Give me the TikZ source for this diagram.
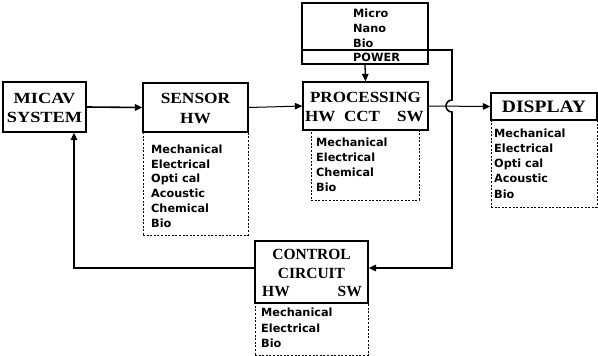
\documentclass[tikz,border=0pt]{standalone}
\usepackage{fontspec}
\usetikzlibrary{arrows.meta}
\newfontfamily\ttlfont{Liberation Serif}[BoldFont={Liberation Serif Bold}]
\newfontfamily\lstfont{DejaVu Sans}[BoldFont={DejaVu Sans Bold}]
\tikzset{
  box/.style={draw, line width=1.2pt, inner sep=0pt},
  ttl/.style={font=\ttlfont\bfseries\fontsize{15.5}{18.5}\selectfont, align=center, inner sep=0pt, transform shape},
  lst/.style={font=\lstfont\bfseries\fontsize{11.3}{14.8}\selectfont, align=left, inner sep=0pt, anchor=north west},
  dbox/.style={draw, line width=0.7pt, dash pattern=on 2pt off 1.6pt, inner sep=0pt},
  conn/.style={line width=1.6pt},
  arr/.style={conn, -{Triangle[length=7.5pt,width=6.5pt]}},
}
\begin{document}
\begin{tikzpicture}[x=1pt,y=-1pt]
\useasboundingbox (0,0) rectangle (598,356);
% MICAV
\node[box, minimum width=83pt, minimum height=50pt] (micav) at (44.5,107) {};
\node[ttl, xscale=1.18] (micavt) at (44.5,108) {MICAV\\SYSTEM};
% SENSOR
\node[box, minimum width=105pt, minimum height=49pt] (sensor) at (195.5,107.5) {};
\node[ttl, xscale=1.12, font=\ttlfont\bfseries\fontsize{15.5}{20}\selectfont] (sensort) at (195.5,108) {SENSOR\\HW};
\node[dbox, minimum width=105pt, minimum height=103pt] (sensorl) at (195.5,183.5) {};
\node[lst] (sensorlt) at (151,144.5) {Mechanical\\Electrical\\Opti cal\\Acoustic\\Chemical\\Bio};
% POWER
\node[box, minimum width=126pt, minimum height=61pt] (power) at (365,33.5) {};
\coordinate (dl) at (302,50);
\coordinate (dr) at (428,50);
\draw[line width=1.2pt] (dl) -- (dr);
\node[lst] (powert) at (353,9) {Micro\\Nano\\Bio};
\node[lst, anchor=west] (powerw) at (353,57.5) {POWER};
% PROCESSING
\node[box, minimum width=125pt, minimum height=48pt] (proc) at (365.5,106) {};
\node[ttl, xscale=1.1] (proct) at (365.5,97) {PROCESSING};
\node[ttl, xscale=1.1, anchor=base west] (prochw) at (305,121) {HW};
\node[ttl, xscale=1.1, anchor=base] (proccct) at (362,121) {CCT};
\node[ttl, xscale=1.1, anchor=base east] (procsw) at (424,121) {SW};
\node[dbox, minimum width=108pt, minimum height=70pt] (procl) at (365,165) {};
\node[lst, font=\lstfont\bfseries\fontsize{11.3}{15}\selectfont] (proclt) at (316,138) {Mechanical\\Electrical\\Chemical\\Bio};
% DISPLAY
\node[box, minimum width=106pt, minimum height=27pt] (disp) at (544,106.5) {};
\node[ttl, xscale=1.12, font=\ttlfont\bfseries\fontsize{17.5}{18}\selectfont] (dispt) at (544,107) {DISPLAY};
\node[dbox, minimum width=106pt, minimum height=87pt] (displ) at (544,163.5) {};
\node[lst, font=\lstfont\bfseries\fontsize{11.3}{15.2}\selectfont] (displt) at (494,128.5) {Mechanical\\Electrical\\Opti cal\\Acoustic\\Bio};
% CONTROL
\node[box, minimum width=113pt, minimum height=62pt] (ctrl) at (311.5,272) {};
\node[ttl] (ctrlt) at (311.5,264) {CONTROL\\CIRCUIT};
\node[ttl, anchor=base west] (ctrlhw) at (262,296) {HW};
\node[ttl, anchor=base east] (ctrlsw) at (362,296) {SW};
\node[dbox, minimum width=113pt, minimum height=52pt] (ctrll) at (311.5,329) {};
\node[lst, font=\lstfont\bfseries\fontsize{11.3}{15.5}\selectfont] (ctrllt) at (261,308) {Mechanical\\Electrical\\Bio};
% connectors
\draw[arr] (micav.east) -- (sensor.west);
\draw[arr, line width=1pt] (sensor.east) -- (proc.west);
\draw[arr, line width=1.3pt] (power.south) -- (proc.north);
\draw[arr, line width=1pt] (proc.east) -- (disp.west);
\coordinate (pa) at (452,50);
\coordinate (pb) at (452,100);
\coordinate (pc) at (452,268);
\draw[arr] (dr) -- (pa) -- (pb) arc[start angle=90, end angle=270, radius=6pt] -- (pc) -- (ctrl.east |- pc);
\coordinate (fa) at (74,268);
\draw[arr] (ctrl.west |- fa) -- (fa) -- (micav.south -| fa);
\end{tikzpicture}
\end{document}
